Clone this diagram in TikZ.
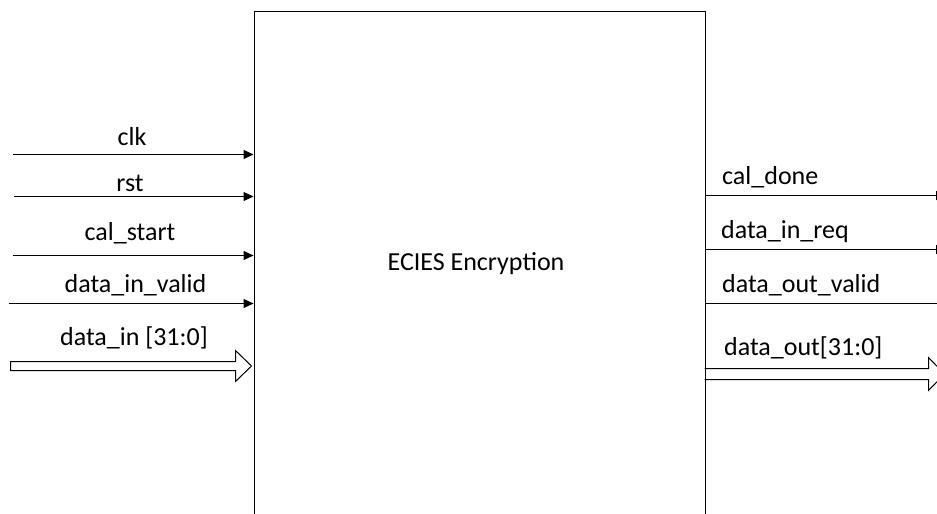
\documentclass[tikz,border=0pt]{standalone}
\usepackage{fontspec}
\setmainfont{Carlito}
\usetikzlibrary{arrows.meta}
\begin{document}
\begin{tikzpicture}[x=1pt,y=-1pt,
  sig/.style={line width=1pt,-{Triangle[length=10pt,width=9pt]}},
  plain/.style={line width=1pt},
  bus/.style={line width=1pt,line join=miter},
  lbl/.style={font=\fontsize{26}{31}\selectfont,inner sep=0pt,anchor=base},
  rlbl/.style={lbl,anchor=base west},
  block/.style={draw,line width=1.2pt,minimum width=451pt,minimum height=540pt,anchor=north west,inner sep=0pt}]
\useasboundingbox (0,0) rectangle (937,514);
\clip (0,0) rectangle (937,514);

% the encryption core
\node[block] (enc) at (253.5,10.5) {};
\node[lbl] (title) at (476,270) {ECIES Encryption};

% input ports
\coordinate (clkin)   at (13,154.5);
\coordinate (rstin)   at (14,196.5);
\coordinate (startin) at (13,255.5);
\coordinate (validin) at (9,303.5);

\draw[sig] (clkin)   -- (enc.west |- clkin);
\draw[sig] (rstin)   -- (enc.west |- rstin);
\draw[sig] (startin) -- (enc.west |- startin);
\draw[sig] (validin) -- (enc.west |- validin);
\draw[bus] (10.5,361.5) -- (235.5,361.5) -- (235.5,350.5) -- (251.5,366) -- (235.5,381.5)
           -- (235.5,370.5) -- (10.5,370.5) -- cycle;

\node[lbl] (lclk)   at (132,145.5)   {clk};
\node[lbl] (lrst)   at (130,191.5)   {rst};
\node[lbl] (lstart) at (130,240)     {cal\_start};
\node[lbl] (lvalid) at (135.5,292.3) {data\_in\_valid};
\node[lbl] (lbus)   at (134,345)     {data\_in [31:0]};

% output ports
\coordinate (doneout) at (946,195.5);
\coordinate (reqout)  at (946,249.5);
\coordinate (ovout)   at (940,303.5);

\draw[sig]   (enc.east |- doneout) -- (doneout);
\draw[sig]   (enc.east |- reqout)  -- (reqout);
\draw[plain] (enc.east |- ovout)   -- (ovout);
\draw[bus] (704.5,368.5) -- (928.5,368.5) -- (928.5,357.5) -- (944.5,374) -- (928.5,390.5)
           -- (928.5,379.5) -- (704.5,379.5);

\node[rlbl] (ldone)  at (722,184)   {cal\_done};
\node[rlbl] (lreq)   at (721,238.3) {data\_in\_req};
\node[rlbl] (lov)    at (722,292.7) {data\_out\_valid};
\node[rlbl] (lobus)  at (724,355)   {data\_out[31:0]};
\end{tikzpicture}
\end{document}
